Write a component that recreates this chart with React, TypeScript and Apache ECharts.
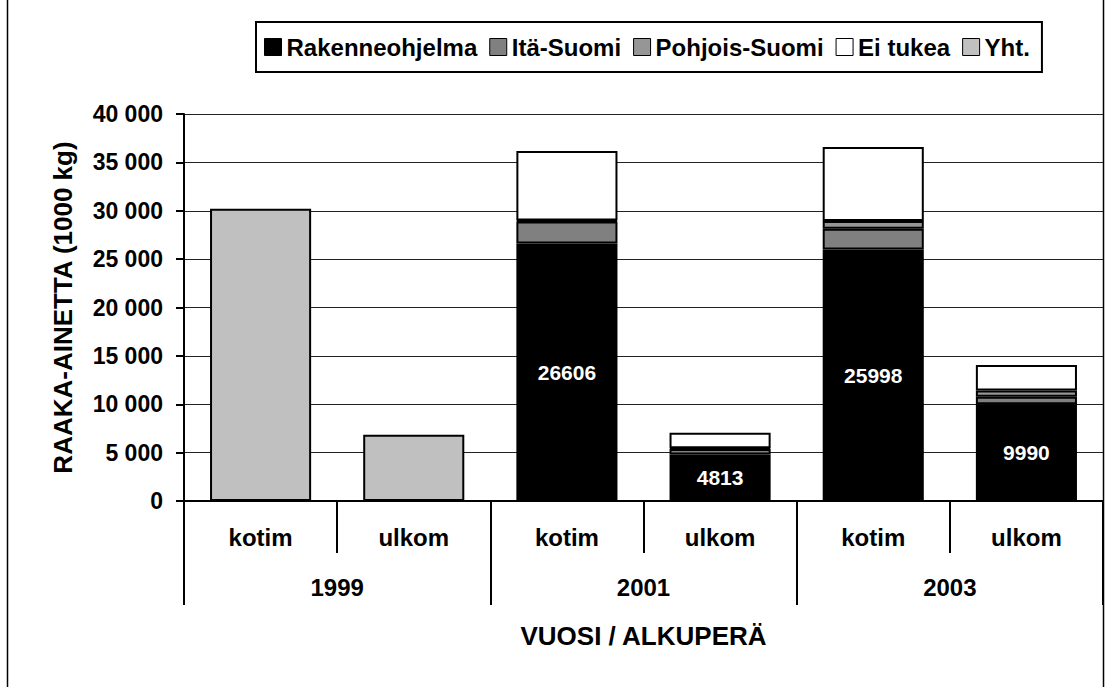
import React, { useEffect, useRef } from "react";
import * as echarts from "echarts";

const categories = ["kotim", "ulkom", "kotim", "ulkom", "kotim", "ulkom"];
const years = ["1999", "2001", "2003"];
const rakenneohjelma = [null, null, 26606, 4813, 25998, 9990];
const itaSuomi = [null, null, 2280, 550, 2150, 790];
const pohjoisSuomi = [null, null, 100, 80, 800, 640];
const eiTukea = [null, null, 7180, 1600, 7630, 2640];
const yht = [30200, 6840, null, null, null, null];
const yTicks = { min: 0, max: 40000, interval: 5000 };

const FONT = "'Liberation Sans', Arial, sans-serif";

function fmt(v: number): string {
  return String(v).replace(/\B(?=(\d{3})+(?!\d))/g, " ");
}

export default function App() {
  const ref = useRef<HTMLDivElement>(null);
  useEffect(() => {
    if (!ref.current) return;
    const chart = echarts.init(ref.current, null, { renderer: "svg" });
    const border = { borderColor: "#000", borderWidth: 2 };
    const mk = (name: string, data: any[], color: string, label?: boolean) => ({
      name,
      type: "bar",
      stack: "total",
      data,
      barCategoryGap: "34%",
      itemStyle: { color, ...border },
      label: label
        ? {
            show: true,
            position: "inside",
            color: "#fff",
            fontFamily: FONT,
            fontWeight: "bold",
            fontSize: 21,
          }
        : { show: false },
    });
    chart.setOption({
      animation: false,
      backgroundColor: "#fff",
      textStyle: { fontFamily: FONT },
      legend: {
        top: 22,
        left: 256,
        orient: "horizontal",
        padding: [13, 12, 13, 8],
        borderColor: "#000",
        borderWidth: 2,
        itemWidth: 17,
        itemHeight: 17,
        itemGap: 12,
        icon: "rect",
        itemStyle: { borderColor: "#000", borderWidth: 1 },
        textStyle: {
          fontFamily: FONT,
          fontWeight: "bold",
          fontSize: 24,
          color: "#000",
        },
        data: ["Rakenneohjelma", "Itä-Suomi", "Pohjois-Suomi", "Ei tukea", "Yht."],
      },
      grid: { left: 184, right: 8, top: 114, bottom: 186, containLabel: false },
      xAxis: [
        {
          type: "category",
          data: categories,
          position: "bottom",
          axisLine: { show: true, lineStyle: { color: "#000", width: 2 } },
          axisTick: {
            show: true,
            interval: 0,
            length: 52,
            lineStyle: { color: "#000", width: 2 },
          },
          axisLabel: {
            interval: 0,
            margin: 24,
            color: "#000",
            fontFamily: FONT,
            fontWeight: "bold",
            fontSize: 24,
          },
          name: "VUOSI / ALKUPERÄ",
          nameLocation: "middle",
          nameGap: 122,
          nameTextStyle: {
            color: "#000",
            fontFamily: FONT,
            fontWeight: "bold",
            fontSize: 26,
          },
        },
        {
          type: "category",
          data: years,
          position: "bottom",
          offset: 0,
          axisLine: { show: false },
          axisTick: {
            show: true,
            interval: 0,
            length: 104,
            lineStyle: { color: "#000", width: 2 },
          },
          axisLabel: {
            interval: 0,
            margin: 74,
            color: "#000",
            fontFamily: FONT,
            fontWeight: "bold",
            fontSize: 24,
          },
        },
      ],
      yAxis: {
        type: "value",
        min: yTicks.min,
        max: yTicks.max,
        interval: yTicks.interval,
        axisLine: { show: true, lineStyle: { color: "#000", width: 2 } },
        axisTick: { show: true, length: 8, lineStyle: { color: "#000", width: 2 } },
        splitLine: { show: true, lineStyle: { color: "#222", width: 1 } },
        axisLabel: {
          margin: 21,
          color: "#000",
          fontFamily: FONT,
          fontWeight: "bold",
          fontSize: 23,
          formatter: (v: number) => fmt(v),
        },
        name: "RAAKA-AINETTA (1000 kg)",
        nameLocation: "middle",
        nameRotate: 90,
        nameGap: 108,
        nameTextStyle: {
          color: "#000",
          fontFamily: FONT,
          fontWeight: "bold",
          fontSize: 26,
        },
      },
      graphic: [
        {
          type: "line",
          shape: { x1: 7.5, y1: 0, x2: 7.5, y2: 687 },
          style: { stroke: "#000", lineWidth: 1.5 },
        },
        {
          type: "line",
          shape: { x1: 1103.5, y1: 0, x2: 1103.5, y2: 687 },
          style: { stroke: "#000", lineWidth: 1.5 },
        },
      ],
      series: [
        mk("Rakenneohjelma", rakenneohjelma, "#000000", true),
        mk("Itä-Suomi", itaSuomi, "#808080"),
        mk("Pohjois-Suomi", pohjoisSuomi, "#969696"),
        mk("Ei tukea", eiTukea, "#ffffff"),
        mk("Yht.", yht, "#c0c0c0"),
      ],
    });
    return () => chart.dispose();
  }, []);
  return <div ref={ref} style={{ width: 1111, height: 687, position: "absolute", left: 0, top: 0 }} />;
}
